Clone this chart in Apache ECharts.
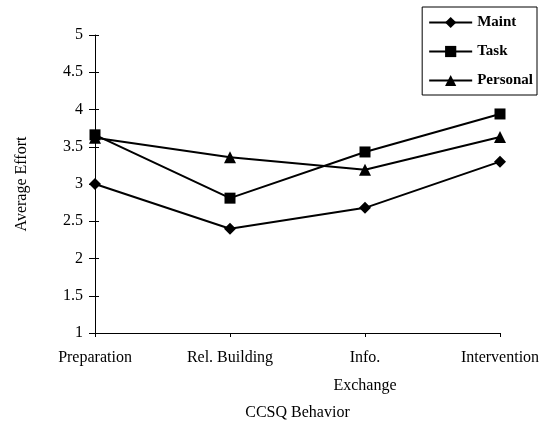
<!DOCTYPE html>
<html>
<head>
<meta charset="utf-8">
<script src="https://cdn.jsdelivr.net/npm/echarts@6/dist/echarts.min.js"></script>
<style>
  html, body { margin: 0; padding: 0; background: #fff; }
  #chart { width: 551px; height: 427px; }
</style>
</head>
<body>
<div id="chart"></div>
<script>
const categories = ['Preparation', 'Rel. Building', 'Info.\nExchange', 'Intervention']
const maint = [3.0, 2.4, 2.68, 3.3]
const task = [3.66, 2.81, 3.43, 3.94]
const personal = [3.62, 3.36, 3.19, 3.63]
const yTicks = { min: 1, max: 5, interval: 0.5 }

const font = 'Liberation Serif'
const chart = echarts.init(document.getElementById('chart'))

const lineSeries = (name, data, symbol, size) => ({
  name: name,
  type: 'line',
  data: data,
  symbol: symbol,
  symbolSize: size,
  lineStyle: { color: '#000', width: 2 },
  itemStyle: { color: '#000' },
  animation: false
})

chart.setOption({
  backgroundColor: '#fff',
  textStyle: { fontFamily: font, color: '#000' },
  grid: { left: 95, right: 51, top: 35, bottom: 94 },
  legend: {
    orient: 'vertical',
    right: 14,
    top: 7,
    padding: [8, 4, 7, 6],
    itemWidth: 43,
    itemHeight: 14,
    itemGap: 14,
    borderColor: '#000',
    borderWidth: 1,
    textStyle: { fontFamily: font, fontSize: 15, fontWeight: 'bold', color: '#000' },
    data: ['Maint', 'Task', 'Personal']
  },
  xAxis: {
    type: 'category',
    data: categories,
    boundaryGap: false,
    name: 'CCSQ Behavior',
    nameLocation: 'middle',
    nameGap: 67,
    nameTextStyle: { fontFamily: font, fontSize: 16, color: '#000' },
    axisLine: { lineStyle: { color: '#000', width: 1 } },
    axisTick: { show: true, length: 4, lineStyle: { color: '#000' } },
    axisLabel: { fontFamily: font, fontSize: 16, color: '#000', margin: 11, lineHeight: 28, interval: 0 },
    splitLine: { show: false }
  },
  yAxis: [{
    type: 'value',
    min: yTicks.min,
    max: yTicks.max,
    interval: yTicks.interval,
    name: 'Average Effort',
    nameLocation: 'middle',
    nameGap: 65,
    nameTextStyle: { fontFamily: font, fontSize: 16, color: '#000' },
    axisLine: { show: true, lineStyle: { color: '#000', width: 1 } },
    axisTick: { show: true, length: 6, lineStyle: { color: '#000' } },
    axisLabel: { fontFamily: font, fontSize: 16, color: '#000', margin: 12 },
    splitLine: { show: false }
  }, {
    type: 'value',
    position: 'left',
    min: yTicks.min,
    max: yTicks.max,
    interval: yTicks.interval,
    axisLine: { show: false },
    axisTick: { show: true, inside: true, length: 4, lineStyle: { color: '#000' } },
    axisLabel: { show: false },
    splitLine: { show: false }
  }],
  series: [
    lineSeries('Maint', maint, 'diamond', 12),
    lineSeries('Task', task, 'rect', 11),
    lineSeries('Personal', personal, 'triangle', 12)
  ]
})
</script>
</body>
</html>
